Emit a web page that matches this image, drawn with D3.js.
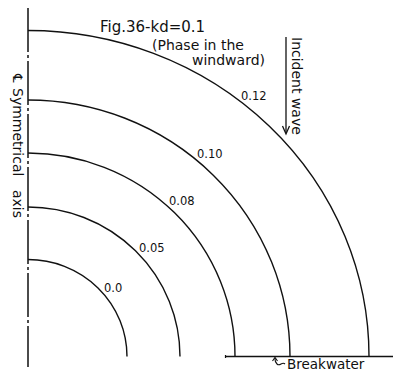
<!DOCTYPE html>
<html>
<head>
<meta charset="utf-8">
<script src="https://cdn.jsdelivr.net/npm/d3@7"></script>
<style>
  html, body { margin: 0; padding: 0; background: #fff; }
  svg { display: block; }
  text { font-family: "DejaVu Sans", sans-serif; fill: #111; }
</style>
</head>
<body>
<div id="chart"></div>
<script>
// contour values (phase lines) and where each meets the axis / breakwater
const contourLabels = ["0.0", "0.05", "0.08", "0.10", "0.12"];
const xReach = [0.99, 1.52, 2.07, 2.62, 3.41];   // distance along breakwater
const yReach = [0.97, 1.495, 2.035, 2.565, 3.26]; // distance along symmetrical axis
const labelAtX = [0.75, 1.10, 1.40, 1.68, 2.12];

const titleLines = ["Fig.36-kd=0.1", "(Phase in the", "windward)"];

const W = 393, H = 372;
const svg = d3.select("#chart").append("svg").attr("width", W).attr("height", H);

const x = d3.scaleLinear().domain([0, 3.65]).range([28, 393]);
const y = d3.scaleLinear().domain([0, 3.5]).range([356.5, 6.5]);

const ink = "#111";

// symmetrical axis (dash-dot)
svg.append("line")
  .attr("x1", x(0)).attr("x2", x(0))
  .attr("y1", 8).attr("y2", 367)
  .attr("stroke", ink).attr("stroke-width", 1.5)
  .attr("stroke-dasharray", "44,3,3,3");

// breakwater
svg.append("line")
  .attr("x1", 225).attr("x2", W)
  .attr("y1", y(0)).attr("y2", y(0))
  .attr("stroke", ink).attr("stroke-width", 1.3);
svg.append("line")
  .attr("x1", 225.5).attr("x2", 225.5)
  .attr("y1", y(0) - 1.5).attr("y2", y(0) + 1.5)
  .attr("stroke", ink).attr("stroke-width", 1.2);

// contours as quarter ellipses
const g = svg.append("g");
contourLabels.forEach((lab, i) => {
  const rx = x(xReach[i]) - x(0);
  const ry = y(0) - y(yReach[i]);
  g.append("path")
    .attr("d", `M${x(0)},${y(yReach[i])} A${rx},${ry} 0 0 1 ${x(xReach[i])},${y(0)}`)
    .attr("fill", "none").attr("stroke", ink).attr("stroke-width", 1.4);
  const lx = labelAtX[i];
  const t = lx / xReach[i];
  const ly = yReach[i] * Math.sqrt(1 - t * t);
  g.append("text")
    .attr("x", x(lx) + 1).attr("y", y(ly) - 1.5)
    .attr("font-size", 11.5)
    .text(lab);
});

// title
const titlePos = [[100, 32, 15], [152, 50, 14], [192, 65, 14]];
titleLines.forEach((s, i) => {
  svg.append("text")
    .attr("x", titlePos[i][0]).attr("y", titlePos[i][1])
    .attr("font-size", titlePos[i][2])
    .text(s);
});

// incident wave arrow
svg.append("line")
  .attr("x1", 286).attr("x2", 286).attr("y1", 37).attr("y2", 133)
  .attr("stroke", ink).attr("stroke-width", 1.3);
svg.append("path")
  .attr("d", "M282.5,126 L286,134 L289.5,126")
  .attr("fill", "none").attr("stroke", ink).attr("stroke-width", 1.3);
svg.append("text")
  .attr("transform", "translate(292,37) rotate(90)")
  .attr("font-size", 14)
  .text("Incident wave");

// symmetrical axis label
svg.append("text")
  .attr("transform", "translate(13,74) rotate(90)")
  .attr("font-size", 13)
  .text("\u2104");
svg.append("text")
  .attr("transform", "translate(13,88) rotate(90)")
  .attr("font-size", 14)
  .text("Symmetrical");
svg.append("text")
  .attr("transform", "translate(13,190) rotate(90)")
  .attr("font-size", 14)
  .text("axis");

// breakwater label with curly arrow
svg.append("path")
  .attr("d", "M285,364 C282,361 280,367 277,364 C274.5,361.5 275,360 275,358")
  .attr("fill", "none").attr("stroke", ink).attr("stroke-width", 1.1);
svg.append("path")
  .attr("d", "M272.5,361 L275,357.5 L277.5,361")
  .attr("fill", "none").attr("stroke", ink).attr("stroke-width", 1.1);
svg.append("text")
  .attr("x", 287).attr("y", 368.5)
  .attr("font-size", 13.5)
  .text("Breakwater");
</script>
</body>
</html>
